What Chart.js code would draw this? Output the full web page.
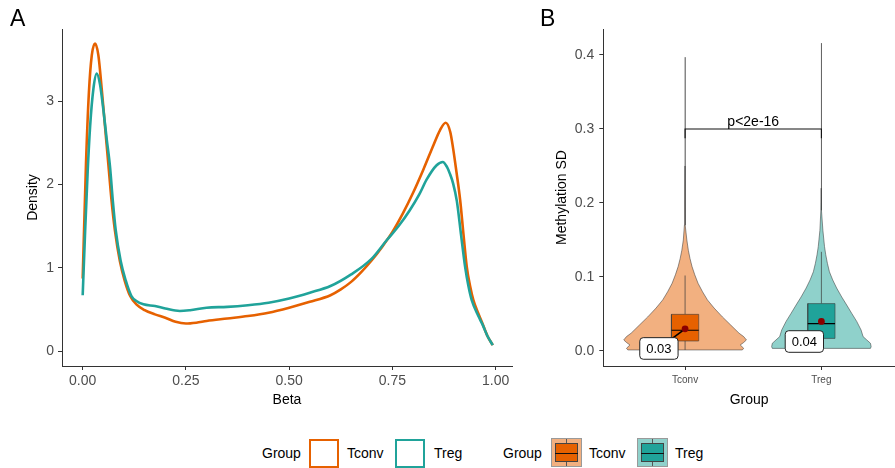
<!DOCTYPE html>
<html><head><meta charset="utf-8">
<script src="https://cdn.jsdelivr.net/npm/chart.js@4.4.1/dist/chart.umd.min.js"></script>
<style>
html,body{margin:0;padding:0;background:#fff;}
body{width:895px;height:468px;position:relative;overflow:hidden;font-family:"Liberation Sans",Arial,sans-serif;}
#cA{position:absolute;left:0;top:0;}
#cB{position:absolute;left:520px;top:0;}
.tag{position:absolute;font-size:23px;color:#000;line-height:23px;top:6.5px;}
.lg{position:absolute;font-size:14px;color:#000;top:444px;line-height:18px;white-space:nowrap;}
.sq{position:absolute;top:438.5px;width:30px;height:29px;box-sizing:border-box;border:2.6px solid;background:#fff;}
.bk{position:absolute;top:438px;width:31px;height:29px;box-sizing:border-box;border:1px solid #9a9a9a;}
.bk .in{position:absolute;left:3px;top:4px;width:23px;height:19px;box-sizing:border-box;border:1px solid #444;}
.bk .md{position:absolute;left:3px;top:14px;width:23px;height:1px;background:#111;}
.bk .w1{position:absolute;left:14px;top:0;width:1px;height:4px;background:#555;}
.bk .w2{position:absolute;left:14px;top:23px;width:1px;height:4px;background:#555;}
</style>
</head><body>
<canvas id="cA" width="520" height="420"></canvas>
<canvas id="cB" width="375" height="420"></canvas>
<div class="tag" style="left:10px">A</div>
<div class="tag" style="left:540px">B</div>

<div class="lg" style="left:262px">Group</div>
<div class="sq" style="left:309px;border-color:#E66100"></div>
<div class="lg" style="left:347px">Tconv</div>
<div class="sq" style="left:395px;border-color:#20A39A"></div>
<div class="lg" style="left:434px">Treg</div>

<div class="lg" style="left:503px">Group</div>
<div class="bk" style="left:551px;background:#F2B080"><div class="in" style="background:#E66100"></div><div class="md"></div><div class="w1"></div><div class="w2"></div></div>
<div class="lg" style="left:589px">Tconv</div>
<div class="bk" style="left:637px;background:#8FD1CB"><div class="in" style="background:#20A39A"></div><div class="md"></div><div class="w1"></div><div class="w2"></div></div>
<div class="lg" style="left:675px">Treg</div>

<script>
// ---------- DATA ----------
// Panel A: density of Beta
const betaTconv = [0,0.008,0.015,0.022,0.030,0.038,0.046,0.054,0.062,0.070,0.078,0.090,0.102,0.115,0.13,0.15,0.175,0.2,0.225,0.25,0.275,0.3,0.35,0.4,0.45,0.5,0.55,0.6,0.625,0.65,0.675,0.7,0.725,0.75,0.775,0.8,0.825,0.85,0.865,0.879,0.89,0.897,0.905,0.914,0.922,0.930,0.938,0.946,0.958,0.968,0.98,0.993];
const densityTconv = [0.87,2.25,3.1,3.55,3.69,3.55,3.15,2.7,2.25,1.8,1.45,1.08,0.84,0.66,0.56,0.49,0.44,0.40,0.35,0.33,0.34,0.36,0.39,0.42,0.46,0.52,0.59,0.67,0.74,0.83,0.95,1.09,1.25,1.43,1.65,1.90,2.18,2.48,2.65,2.74,2.63,2.43,2.15,1.81,1.40,1.01,0.78,0.61,0.45,0.33,0.18,0.07];
const betaTreg = [0,0.006,0.012,0.018,0.026,0.034,0.042,0.050,0.058,0.066,0.073,0.080,0.092,0.104,0.118,0.13,0.147,0.175,0.2,0.235,0.26,0.3,0.35,0.4,0.45,0.5,0.55,0.6,0.65,0.7,0.736,0.765,0.792,0.815,0.833,0.857,0.872,0.882,0.889,0.897,0.906,0.916,0.926,0.934,0.942,0.958,0.968,0.98,0.993];
const densityTreg = [0.67,1.45,2.15,2.7,3.15,3.33,3.2,2.9,2.55,2.22,1.8,1.45,1.08,0.85,0.66,0.60,0.56,0.54,0.51,0.48,0.49,0.52,0.53,0.55,0.58,0.63,0.70,0.78,0.92,1.11,1.33,1.50,1.69,1.88,2.06,2.23,2.27,2.21,2.13,2.01,1.80,1.40,1.01,0.78,0.61,0.42,0.32,0.18,0.07];
const xTicksA = [0,0.25,0.5,0.75,1];
const xTickLabelsA = ['0.00','0.25','0.50','0.75','1.00'];
const yTicksA = [0,1,2,3];
const yTickLabelsA = ['0','1','2','3'];

// Panel B: methylation SD per group
const groups = ['Tconv','Treg'];
const groupPos = [1,2];
const violinLevelsTconv = [0.0014,0.0036,0.0081,0.0115,0.0149,0.0194,0.024,0.035,0.046,0.058,0.069,0.080,0.0915,0.103,0.114,0.125,0.136,0.15,0.17,0.2,0.25,0.3,0.35,0.397];
const violinWidthTconv  = [0.42,0.43,0.405,0.43,0.45,0.43,0.396,0.335,0.274,0.213,0.164,0.128,0.095,0.071,0.051,0.036,0.024,0.013,0.005,0.0018,0.0006,0.0005,0.0005,0.0004];
const violinLevelsTreg  = [0.0035,0.0058,0.0104,0.0149,0.0194,0.0284,0.040,0.051,0.062,0.073,0.085,0.096,0.107,0.1185,0.130,0.141,0.163,0.19,0.22,0.26,0.3,0.36,0.416];
const violinWidthTreg   = [0.36,0.365,0.36,0.333,0.306,0.291,0.259,0.222,0.186,0.149,0.112,0.083,0.059,0.044,0.032,0.023,0.011,0.004,0.0015,0.0006,0.0005,0.0005,0.0004];
const boxQ1 = [0.0135,0.017];
const boxMedian = [0.028,0.037];
const boxQ3 = [0.0495,0.064];
const whiskerLow = [0.0014,0.0035];
const whiskerHigh = [0.102,0.134];
const groupMeans = [0.030,0.040];
const meanLabels = ['0.03','0.04'];
const yTicksB = [0,0.1,0.2,0.3,0.4];
const yTickLabelsB = ['0.0','0.1','0.2','0.3','0.4'];
const pValueText = 'p<2e-16';
const bracketLevel = 0.3;

// ---------- STYLE ----------
const ORANGE = '#E66100', TEAL = '#20A39A';
const ORANGE_L = '#F2B080', TEAL_L = '#8FD1CB';
const TICK_COLOR = '#4D4D4D', AXIS_COLOR = '#333333';
Chart.defaults.font.family = '"Liberation Sans", Arial, sans-serif';

function linearAxis(opts){
  return {
    type:'linear', min:opts.min, max:opts.max, position:opts.position,
    afterBuildTicks: s => { s.ticks = opts.ticks.map(v => ({value:v})); },
    afterFit: s => { if (opts.position==='left') s.width = opts.size; else s.height = opts.size; },
    ticks:{ autoSkip:false, maxRotation:0, color:TICK_COLOR, font:{size:opts.tickSize||14}, padding:opts.tickPad,
            callback:(v,i)=>opts.labels[i] },
    grid:{ drawOnChartArea:false, drawTicks:true, tickLength:4, tickColor:AXIS_COLOR, tickWidth:1 },
    border:{ display:true, color:AXIS_COLOR, width:1 },
    title:{ display:true, text:opts.title, color:'#000', font:{size:14}, padding:opts.titlePad }
  };
}

// ---------- PANEL A ----------
new Chart(document.getElementById('cA'), {
  type:'line',
  data:{ datasets:[
    { label:'Treg', data:betaTreg.map((x,i)=>({x, y:densityTreg[i]})), borderColor:TEAL, borderWidth:2.6,
      pointRadius:0, cubicInterpolationMode:'monotone', fill:false, order:0 },
    { label:'Tconv', data:betaTconv.map((x,i)=>({x, y:densityTconv[i]})), borderColor:ORANGE, borderWidth:2.6,
      pointRadius:0, cubicInterpolationMode:'monotone', fill:false, order:1 }
  ]},
  options:{
    responsive:false, animation:false, devicePixelRatio:1,
    layout:{ autoPadding:false, padding:{ top:29, right:8, left:0, bottom:0 } },
    plugins:{ legend:{display:false}, tooltip:{enabled:false} },
    scales:{
      x: linearAxis({min:-0.0501, max:1.0395, position:'bottom', ticks:xTicksA, labels:xTickLabelsA, size:54, tickPad:3, title:'Beta', titlePad:{top:0,bottom:11.6}}),
      y: linearAxis({min:-0.18, max:3.866, position:'left', ticks:yTicksA, labels:yTickLabelsA, size:62, tickPad:4, title:'Density', titlePad:{top:24.6,bottom:0}})
    }
  }
});

// ---------- PANEL B ----------
const BOX_HALF = 0.1;
function violinPolygon(pos, levels, widths){
  const left = levels.map((v,i)=>({x:pos - widths[i], y:v}));
  const right = levels.map((v,i)=>({x:pos + widths[i], y:v})).reverse();
  return left.concat(right, [left[0]]);
}
const violinWidths = [violinWidthTconv, violinWidthTreg];
const violinLevels = [violinLevelsTconv, violinLevelsTreg];
const lightCols = [ORANGE_L, TEAL_L], darkCols = [ORANGE, TEAL];
// label placement offsets (ggrepel-like), in data units relative to group / mean
const labelOffset = [{dx:-0.192, dy:-0.0266, seg:true}, {dx:-0.125, dy:-0.0272, seg:false}];

const dsB = [];
groupPos.forEach((p,i)=>{
  dsB.push({ data:violinPolygon(p, violinLevels[i], violinWidths[i]), borderColor:'#3a3a3a', borderWidth:0.55,
             backgroundColor:lightCols[i], fill:'shape', pointRadius:0, tension:0, order:10 });
  dsB.push({ data:[{x:p,y:whiskerLow[i]},{x:p,y:boxQ1[i]},{x:NaN,y:NaN},{x:p,y:boxQ3[i]},{x:p,y:whiskerHigh[i]}],
             borderColor:'#3a3a3a', borderWidth:0.7, pointRadius:0, fill:false, spanGaps:false, order:8 });
  dsB.push({ data:[{x:p-BOX_HALF,y:boxQ1[i]},{x:p+BOX_HALF,y:boxQ1[i]},{x:p+BOX_HALF,y:boxQ3[i]},{x:p-BOX_HALF,y:boxQ3[i]},{x:p-BOX_HALF,y:boxQ1[i]}],
             borderColor:'rgba(60,60,60,0.85)', borderWidth:0.7, backgroundColor:darkCols[i], fill:'shape', pointRadius:0, tension:0, order:6 });
  dsB.push({ data:[{x:p-BOX_HALF,y:boxMedian[i]},{x:p+BOX_HALF,y:boxMedian[i]}], borderColor:'#000', borderWidth:1.2, pointRadius:0, fill:false, order:5 });
  if (labelOffset[i].seg) {
    dsB.push({ data:[{x:p+labelOffset[i].dx,y:groupMeans[i]+labelOffset[i].dy},{x:p,y:groupMeans[i]}], borderColor:'#000', borderWidth:1.6, pointRadius:0, fill:false, order:4 });
  }
  dsB.push({ data:[{x:p,y:groupMeans[i]}], showLine:false, pointRadius:3.4, pointBackgroundColor:'#8B0000', pointBorderWidth:0, borderColor:'#8B0000', order:3 });
});
// significance bracket
dsB.push({ data:[{x:groupPos[0],y:bracketLevel-0.0125},{x:groupPos[0],y:bracketLevel},{x:groupPos[1],y:bracketLevel},{x:groupPos[1],y:bracketLevel-0.0125}],
           borderColor:'#111', borderWidth:1.1, pointRadius:0, fill:false, order:2 });

const annotPlugin = {
  id:'annot',
  afterDatasetsDraw(chart){
    const ctx = chart.ctx, xs = chart.scales.x, ys = chart.scales.y;
    ctx.save();
    ctx.fillStyle = '#000'; ctx.font = '14px "Liberation Sans", Arial, sans-serif';
    ctx.textAlign = 'center'; ctx.textBaseline = 'alphabetic';
    ctx.fillText(pValueText, xs.getPixelForValue((groupPos[0]+groupPos[1])/2), ys.getPixelForValue(bracketLevel) - 3);
    ctx.font = '13px "Liberation Sans", Arial, sans-serif';
    groupPos.forEach((p,i)=>{
      const cx = xs.getPixelForValue(p + labelOffset[i].dx);
      const cy = ys.getPixelForValue(groupMeans[i] + labelOffset[i].dy);
      const w = ctx.measureText(meanLabels[i]).width + 13, h = 21.6;
      ctx.beginPath();
      ctx.roundRect(cx - w/2, cy - h/2, w, h, 3.5);
      ctx.fillStyle = '#fff'; ctx.fill();
      ctx.lineWidth = 1; ctx.strokeStyle = '#222'; ctx.stroke();
      ctx.fillStyle = '#000'; ctx.textBaseline = 'middle';
      ctx.fillText(meanLabels[i], cx, cy + 0.5);
    });
    ctx.restore();
  }
};

new Chart(document.getElementById('cB'), {
  type:'line',
  data:{ datasets:dsB },
  options:{
    responsive:false, animation:false, devicePixelRatio:1,
    layout:{ autoPadding:false, padding:{ top:29, right:0, left:0, bottom:0 } },
    plugins:{ legend:{display:false}, tooltip:{enabled:false} },
    scales:{
      x: linearAxis({min:0.4, max:2.54, position:'bottom', ticks:groupPos, labels:groups, size:54, tickPad:4.5, tickSize:10, title:'Group', titlePad:{top:0,bottom:11.6}}),
      y: linearAxis({min:-0.0203, max:0.4351, position:'left', ticks:yTicksB, labels:yTickLabelsB, size:83.3, tickPad:5, title:'Methylation SD', titlePad:{top:33.3,bottom:0}})
    }
  },
  plugins:[annotPlugin]
});
</script>
</body></html>
